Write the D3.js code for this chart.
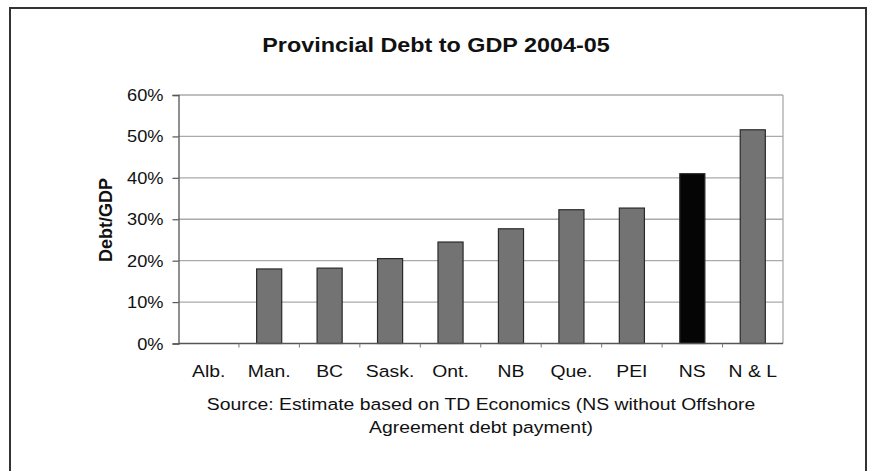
<!DOCTYPE html>
<html>
<head>
<meta charset="utf-8">
<script src="https://cdn.jsdelivr.net/npm/d3@7"></script>
<style>
  html, body { margin: 0; padding: 0; background: #fff; }
  svg { display: block; font-family: Arial, "Liberation Sans", sans-serif; }
</style>
</head>
<body>
<svg id="chart" width="871" height="471"></svg>
<script>
// Provinces, left to right
const provinces = ["Alb.", "Man.", "BC", "Sask.", "Ont.", "NB", "Que.", "PEI", "NS", "N & L"];
// Debt-to-GDP ratio, 2004-05 (fraction of GDP)
const debtRatio = [0, 0.180, 0.182, 0.205, 0.245, 0.277, 0.323, 0.327, 0.410, 0.516];
// Highlighted province
const highlight = ["NS"];
// Y-axis ticks
const yTicks = [0, 0.1, 0.2, 0.3, 0.4, 0.5, 0.6];

const svg = d3.select("#chart");
const W = 871, H = 471;
// the lettering is set slightly wide
const WIDE = 1.14;
const wide = (x, y) => `translate(${x},${y}) scale(${WIDE},1)`;

// outer frame (runs off the bottom edge)
svg.append("path")
  .attr("d", `M10,${H + 5} L10,8 L866,8 L866,${H + 5}`)
  .attr("fill", "none").attr("stroke", "#333").attr("stroke-width", 2);

const plot = { left: 178.5, right: 783, top: 95, bottom: 343.5 };

const x = d3.scaleBand()
  .domain(provinces)
  .range([plot.left, plot.right])
  .paddingInner(0.585)
  .paddingOuter(0.2925);

const y = d3.scaleLinear()
  .domain([0, 0.6])
  .range([plot.bottom, plot.top]);

// gridlines
svg.append("g")
  .selectAll("line")
  .data(yTicks.filter(d => d > 0))
  .join("line")
  .attr("x1", plot.left).attr("x2", plot.right)
  .attr("y1", d => y(d)).attr("y2", d => y(d))
  .attr("stroke", "#aaa").attr("stroke-width", 1.3);

// right border of plot area
svg.append("line")
  .attr("x1", plot.right).attr("x2", plot.right)
  .attr("y1", plot.top).attr("y2", plot.bottom)
  .attr("stroke", "#aaa").attr("stroke-width", 1.3);

// bars
svg.append("g")
  .selectAll("rect")
  .data(provinces.map((p, i) => ({ p, v: debtRatio[i] })).filter(d => d.v > 0))
  .join("rect")
  .attr("x", d => x(d.p))
  .attr("width", x.bandwidth())
  .attr("y", d => y(d.v))
  .attr("height", d => y(0) - y(d.v))
  .attr("fill", d => highlight.includes(d.p) ? "#050505" : "#737373")
  .attr("stroke", "#2a2a2a")
  .attr("stroke-width", 1.2);

// y axis
const yAxis = svg.append("g")
  .attr("transform", `translate(${plot.left},0)`)
  .call(d3.axisLeft(y).tickValues(yTicks).tickFormat(d3.format(".0%")).tickSize(6).tickPadding(9));
yAxis.select(".domain").attr("stroke", "#555").attr("stroke-width", 1.3);
yAxis.selectAll(".tick line").attr("stroke", "#555").attr("stroke-width", 1.2);
yAxis.selectAll(".tick text")
  .attr("x", null).attr("dy", null)
  .attr("transform", wide(-15, 5.5))
  .attr("font-size", 16).attr("fill", "#111")
  .attr("font-family", "Arial, 'Liberation Sans', sans-serif");

// x axis baseline and category separators
const step = x.step();
svg.append("line")
  .attr("x1", plot.left).attr("x2", plot.right)
  .attr("y1", plot.bottom).attr("y2", plot.bottom)
  .attr("stroke", "#555").attr("stroke-width", 1.3);
svg.append("g")
  .selectAll("line")
  .data(provinces.slice(1))
  .join("line")
  .attr("x1", d => x(d) + x.bandwidth() / 2 - step / 2)
  .attr("x2", d => x(d) + x.bandwidth() / 2 - step / 2)
  .attr("y1", plot.bottom).attr("y2", plot.bottom + 4)
  .attr("stroke", "#777").attr("stroke-width", 1);

// category labels
svg.append("g")
  .selectAll("text")
  .data(provinces)
  .join("text")
  .attr("transform", d => wide(x(d) + x.bandwidth() / 2, 377))
  .attr("text-anchor", "middle")
  .attr("font-size", 17)
  .attr("fill", "#111")
  .text(d => d);

// title
svg.append("text")
  .attr("transform", wide(436, 52))
  .attr("text-anchor", "middle")
  .attr("font-size", 20.5).attr("font-weight", "bold")
  .attr("fill", "#111")
  .text("Provincial Debt to GDP 2004-05");

// y axis title
svg.append("text")
  .attr("transform", "translate(112,220) rotate(-90)")
  .attr("text-anchor", "middle")
  .attr("font-size", 18).attr("font-weight", "bold")
  .attr("fill", "#111")
  .text("Debt/GDP");

// source note
const note = ["Source: Estimate based on TD Economics (NS without Offshore",
              "Agreement debt payment)"];
svg.append("g")
  .selectAll("text")
  .data(note)
  .join("text")
  .attr("transform", (d, i) => wide(481, 410 + i * 23))
  .attr("text-anchor", "middle")
  .attr("font-size", 17)
  .attr("fill", "#111")
  .text(d => d);
</script>
</body>
</html>
